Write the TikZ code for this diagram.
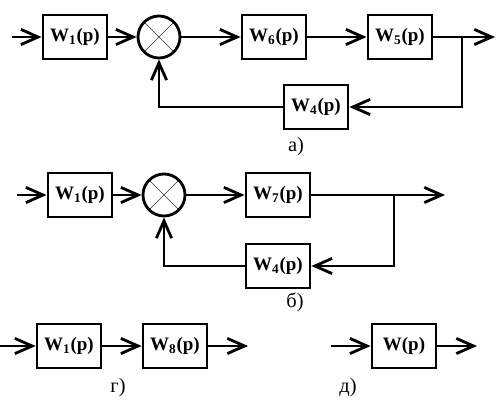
\documentclass[tikz,border=0pt]{standalone}
\usepackage{fontspec}
\setmainfont{Liberation Serif}
\usepackage{tikz}
\usetikzlibrary{arrows.meta}
\usetikzlibrary{positioning}
\tikzset{wblock/.style={draw, line width=2pt, minimum width=1.6cm, minimum height=1.1cm, inner sep=0pt, font=\fontsize{13.5}{15}\selectfont\bfseries}}
\tikzset{summer/.style={draw, circle, line width=2pt, minimum size=1.05cm, inner sep=0pt,
  path picture={\draw[line width=0.4pt, black!80] (path picture bounding box.north west) -- (path picture bounding box.south east)
  (path picture bounding box.north east) -- (path picture bounding box.south west);}}}
\tikzset{caption/.style={font=\fontsize{14.5}{16}\selectfont}}

\begin{document}
\begin{tikzpicture}[x=0.025cm, y=-0.025cm, line width=2pt, >={Straight Barb[length=4.3mm,width=3.8mm]}]
\useasboundingbox (0,0) rectangle (502,402);
% a)
\coordinate (ia) at (12,37);
\node[wblock] (w1a) at (75,37) {W\textsubscript{1}(p)};
\node[summer] (sa) at (159,37) {};
\node[wblock] (w6a) at (274,37) {W\textsubscript{6}(p)};
\node[wblock] (w5a) at (400,37) {W\textsubscript{5}(p)};
\coordinate (ba) at (462,37);
\coordinate (oa) at (495,37);
\node[wblock] (w4a) at (316,107) {W\textsubscript{4}(p)};
\node[caption] (la) at (296,147) {а)};
\draw[->] (ia) -- (w1a);
\draw[->] (w1a) -- (sa);
\draw[->] (sa) -- (w6a);
\draw[->] (w6a) -- (w5a);
\draw[->] (w5a) -- (oa);
\draw[->] (ba) |- (w4a);
\draw[->] (w4a) -| (sa);
% b)
\coordinate (ib) at (17,195);
\node[wblock] (w1b) at (80,195) {W\textsubscript{1}(p)};
\node[summer] (sb) at (164,195) {};
\node[wblock] (w7b) at (278,195) {W\textsubscript{7}(p)};
\coordinate (bb) at (394,195);
\coordinate (ob) at (445,195);
\node[wblock] (w4b) at (278,266) {W\textsubscript{4}(p)};
\node[caption] (lb) at (295,302) {б)};
\draw[->] (ib) -- (w1b);
\draw[->] (w1b) -- (sb);
\draw[->] (sb) -- (w7b);
\draw[->] (w7b) -- (ob);
\draw[->] (bb) |- (w4b);
\draw[->] (w4b) -| (sb);
% g)
\coordinate (ig) at (0,346);
\node[wblock] (w1g) at (69,346) {W\textsubscript{1}(p)};
\node[wblock] (w8g) at (175,346) {W\textsubscript{8}(p)};
\coordinate (og) at (248,346);
\node[caption] (lg) at (118,388) {г)};
\draw[->] (ig) -- (w1g);
\draw[->] (w1g) -- (w8g);
\draw[->] (w8g) -- (og);
% d)
\coordinate (id) at (331,346);
\node[wblock] (wd) at (404,346) {W(p)};
\coordinate (od) at (477,346);
\node[caption] (ld) at (348,388) {д)};
\draw[->] (id) -- (wd);
\draw[->] (wd) -- (od);
\end{tikzpicture}
\end{document}
